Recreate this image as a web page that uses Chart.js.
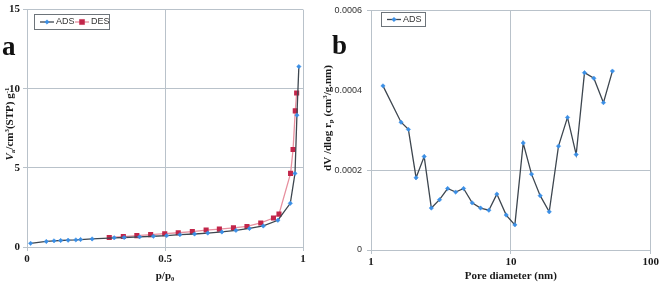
<!DOCTYPE html>
<html><head><meta charset="utf-8">
<script src="https://cdn.jsdelivr.net/npm/chart.js@4"></script>
<style>
html,body{margin:0;padding:0;background:#fff;}
#wrap{position:relative;width:661px;height:283px;overflow:hidden;}
#ca{position:absolute;left:0;top:0;}
#cb{position:absolute;left:315px;top:0;}
</style></head><body>
<div id="wrap">
<canvas id="ca" width="318" height="283"></canvas>
<canvas id="cb" width="346" height="283"></canvas>
</div>
<script>
// Panel a: isotherm
const adsP = [0.013,0.07,0.098,0.122,0.149,0.177,0.194,0.236,0.316,0.352,0.408,0.458,0.506,0.554,0.607,0.655,0.706,0.757,0.806,0.856,0.909,0.954,0.971,0.978,0.985];
const adsV = [0.23,0.35,0.39,0.41,0.43,0.45,0.47,0.51,0.58,0.60,0.64,0.68,0.72,0.78,0.82,0.88,0.95,1.05,1.17,1.33,1.69,2.76,4.65,8.33,11.4];
const desP = [0.298,0.349,0.398,0.448,0.499,0.548,0.599,0.649,0.697,0.748,0.797,0.847,0.893,0.913,0.955,0.964,0.972,0.977];
const desV = [0.60,0.66,0.72,0.78,0.84,0.90,0.97,1.07,1.13,1.21,1.30,1.52,1.83,2.08,4.65,6.16,8.60,9.73];
const aXTicks = [0,0.5,1];
const aYTicks = [0,5,10,15];
// Panel b: pore size distribution
const poreD = [1.218,1.64,1.85,2.10,2.40,2.70,3.09,3.53,4.03,4.59,5.29,6.07,6.96,7.94,9.26,10.68,12.25,14.05,16.2,18.8,21.9,25.4,29.3,33.6,39.2,45.9,53.2];
const poreV = [0.000411,0.000320,0.000302,0.000181,0.000234,0.000105,0.000126,0.000154,0.000145,0.000154,0.000118,0.000105,0.0000997,0.000140,0.0000875,0.000063,0.000268,0.000190,0.000136,0.0000956,0.000260,0.000332,0.000239,0.000444,0.000430,0.000369,0.000448];
const bXTicks = [1,10,100];
const bYTicks = [0,0.0002,0.0004,0.0006];

const SERIF = '"Liberation Serif", "DejaVu Serif", serif';
const SANS = '"Liberation Sans", Arial, sans-serif';
const GRID = '#b9c2ca';
const ADS_LINE = '#3d464f', ADS_PT = '#3a8fe6';
const DES_LINE = '#e7909f', DES_PT = '#c2264a';

function drawRich(ctx, parts, x, y, rotate) {
  ctx.save();
  ctx.translate(x, y);
  if (rotate) ctx.rotate(-Math.PI/2);
  let total = 0;
  for (const p of parts) { ctx.font = p.font; total += ctx.measureText(p.t).width; }
  let cx = -total/2;
  ctx.textBaseline = 'middle';
  ctx.fillStyle = '#1a1a1a';
  for (const p of parts) {
    ctx.font = p.font;
    ctx.fillText(p.t, cx, p.dy || 0);
    cx += ctx.measureText(p.t).width;
  }
  ctx.restore();
}

function legendPlugin(box, items) {
  return {
    id: 'customLegend',
    afterDraw(chart) {
      const ctx = chart.ctx;
      ctx.save();
      ctx.fillStyle = '#fff';
      ctx.fillRect(box.x, box.y, box.w, box.h);
      ctx.strokeStyle = '#6d747a';
      ctx.lineWidth = 1;
      ctx.strokeRect(box.x + 0.5, box.y + 0.5, box.w, box.h);
      const cy = box.y + box.h/2 + 0.5;
      chart.data.datasets.forEach((ds, i) => {
        const it = items[i];
        ctx.strokeStyle = ds.borderColor;
        ctx.lineWidth = 1.3;
        ctx.beginPath(); ctx.moveTo(it.x, cy); ctx.lineTo(it.x + 14, cy); ctx.stroke();
        ctx.fillStyle = ds.pointBackgroundColor;
        ctx.strokeStyle = ds.pointBorderColor;
        ctx.lineWidth = 0.5;
        Chart.helpers.drawPoint(ctx, {pointStyle: ds.pointStyle, radius: ds.pointRadius, rotation: 0, borderWidth: 0.5}, it.x + 7, cy);
        ctx.font = '9px ' + SANS;
        ctx.fillStyle = '#333';
        ctx.textBaseline = 'middle';
        ctx.fillText(ds.label, it.x + 16, cy);
      });
      ctx.restore();
    }
  };
}

// ---------- Chart A ----------
const titleA = {
  id: 'titleA',
  afterDraw(chart) {
    const ctx = chart.ctx;
    ctx.save();
    ctx.font = 'bold 27px ' + SERIF;
    ctx.fillStyle = '#111';
    ctx.textBaseline = 'alphabetic';
    ctx.fillText('a', 2, 55);
    ctx.restore();
    const f = 'bold 11px ' + SERIF, fi = 'italic bold 11px ' + SERIF, fs = 'bold 7px ' + SERIF;
    drawRich(ctx, [
      {t:'V', font: fi}, {t:'a', font: fs, dy: 3}, {t:'/cm', font: f}, {t:'3', font: fs, dy: -3},
      {t:'(STP) g', font: f}, {t:'-1', font: fs, dy: -3}
    ], 10, 124, true);
  }
};

new Chart(document.getElementById('ca'), {
  type: 'scatter',
  data: {
    datasets: [
      {label:'ADS', data: adsP.map((p,i)=>({x:p,y:adsV[i]})), showLine:true,
       borderColor: ADS_LINE, borderWidth: 1.3, pointStyle:'rectRot', pointRadius:2.2,
       pointBackgroundColor: ADS_PT, pointBorderColor: ADS_PT, pointBorderWidth: 0.5, tension:0},
      {label:'DES', data: desP.map((p,i)=>({x:p,y:desV[i]})), showLine:true,
       borderColor: DES_LINE, borderWidth: 1.3, pointStyle:'rect', pointRadius:3.6,
       pointBackgroundColor: DES_PT, pointBorderColor: DES_PT, pointBorderWidth: 0, tension:0}
    ]
  },
  options: {
    responsive:false, animation:false, devicePixelRatio:1,
    layout:{padding:{top:5,right:15,left:0,bottom:0}},
    plugins:{legend:{display:false}, tooltip:{enabled:false}},
    scales:{
      x:{type:'linear', min:0, max:1,
         afterBuildTicks(s){ s.ticks = aXTicks.map(v=>({value:v})); },
         afterFit(s){ s.height = 36; },
         grid:{color:GRID, lineWidth:1, tickLength:4, drawTicks:true},
         border:{color:GRID},
         ticks:{font:{family:SERIF, size:11, weight:'bold'}, color:'#1a1a1a', padding:2, maxRotation:0,
                callback:v=>String(v)},
         title:{display:true, text:'p/p₀', font:{family:SERIF, size:11, weight:'bold'}, color:'#1a1a1a', padding:{top:2,bottom:0}}
      },
      y:{type:'linear', min:0, max:15,
         afterBuildTicks(s){ s.ticks = aYTicks.map(v=>({value:v})); },
         afterFit(s){ s.width = 27; },
         grid:{color:GRID, lineWidth:1, tickLength:4},
         border:{color:GRID},
         ticks:{font:{family:SERIF, size:11, weight:'bold'}, color:'#1a1a1a', padding:3, callback:v=>String(v)}
      }
    }
  },
  plugins:[titleA, legendPlugin({x:34,y:14,w:75,h:15},[{x:40},{x:75}])]
});

// ---------- Chart B ----------
const titleB = {
  id: 'titleB',
  afterDraw(chart) {
    const ctx = chart.ctx;
    ctx.save();
    ctx.font = 'bold 27px ' + SERIF;
    ctx.fillStyle = '#111';
    ctx.fillText('b', 17, 54);
    ctx.restore();
    const f = 'bold 11px ' + SERIF, fs = 'bold 7px ' + SERIF;
    drawRich(ctx, [
      {t:'dV /dlog r', font: f}, {t:'p', font: fs, dy: 3}, {t:' (cm', font: f}, {t:'3', font: fs, dy: -3},
      {t:'/g.nm)', font: f}
    ], 13, 118, true);
  }
};

new Chart(document.getElementById('cb'), {
  type: 'scatter',
  data: {
    datasets: [
      {label:'ADS', data: poreD.map((d,i)=>({x:d,y:poreV[i]})), showLine:true,
       borderColor: ADS_LINE, borderWidth: 1.3, pointStyle:'rectRot', pointRadius:2.2,
       pointBackgroundColor: ADS_PT, pointBorderColor: ADS_PT, pointBorderWidth: 0.5, tension:0}
    ]
  },
  options: {
    responsive:false, animation:false, devicePixelRatio:1,
    layout:{padding:{top:5,right:10,left:0,bottom:0}},
    plugins:{legend:{display:false}, tooltip:{enabled:false}},
    scales:{
      x:{type:'logarithmic', min:1, max:100,
         afterBuildTicks(s){ s.ticks = bXTicks.map(v=>({value:v, major:true})); },
         afterFit(s){ s.height = 33; },
         grid:{color:GRID, lineWidth:1, tickLength:4},
         border:{color:GRID},
         ticks:{font:{family:SERIF, size:11, weight:'bold'}, color:'#1a1a1a', padding:2, maxRotation:0, autoSkip:false,
                callback:v=>String(v)},
         title:{display:true, text:'Pore diameter (nm)', font:{family:SERIF, size:11, weight:'bold'}, color:'#1a1a1a', padding:{top:1,bottom:0}}
      },
      y:{type:'linear', min:0, max:0.0006,
         afterBuildTicks(s){ s.ticks = bYTicks.map(v=>({value:v})); },
         afterFit(s){ s.width = 56; },
         grid:{color:(c)=> (c.tick && Math.abs(c.tick.value-0.0004)<1e-9) ? 'rgba(0,0,0,0)' : GRID, lineWidth:1, tickLength:4},
         border:{color:GRID},
         ticks:{font:{family:SANS, size:9}, color:'#333', padding:5,
                callback:v=> v===0 ? '0' : v.toFixed(4)}
      }
    }
  },
  plugins:[titleB, legendPlugin({x:66,y:12,w:44,h:14},[{x:72}])]
});
</script>
</body></html>
